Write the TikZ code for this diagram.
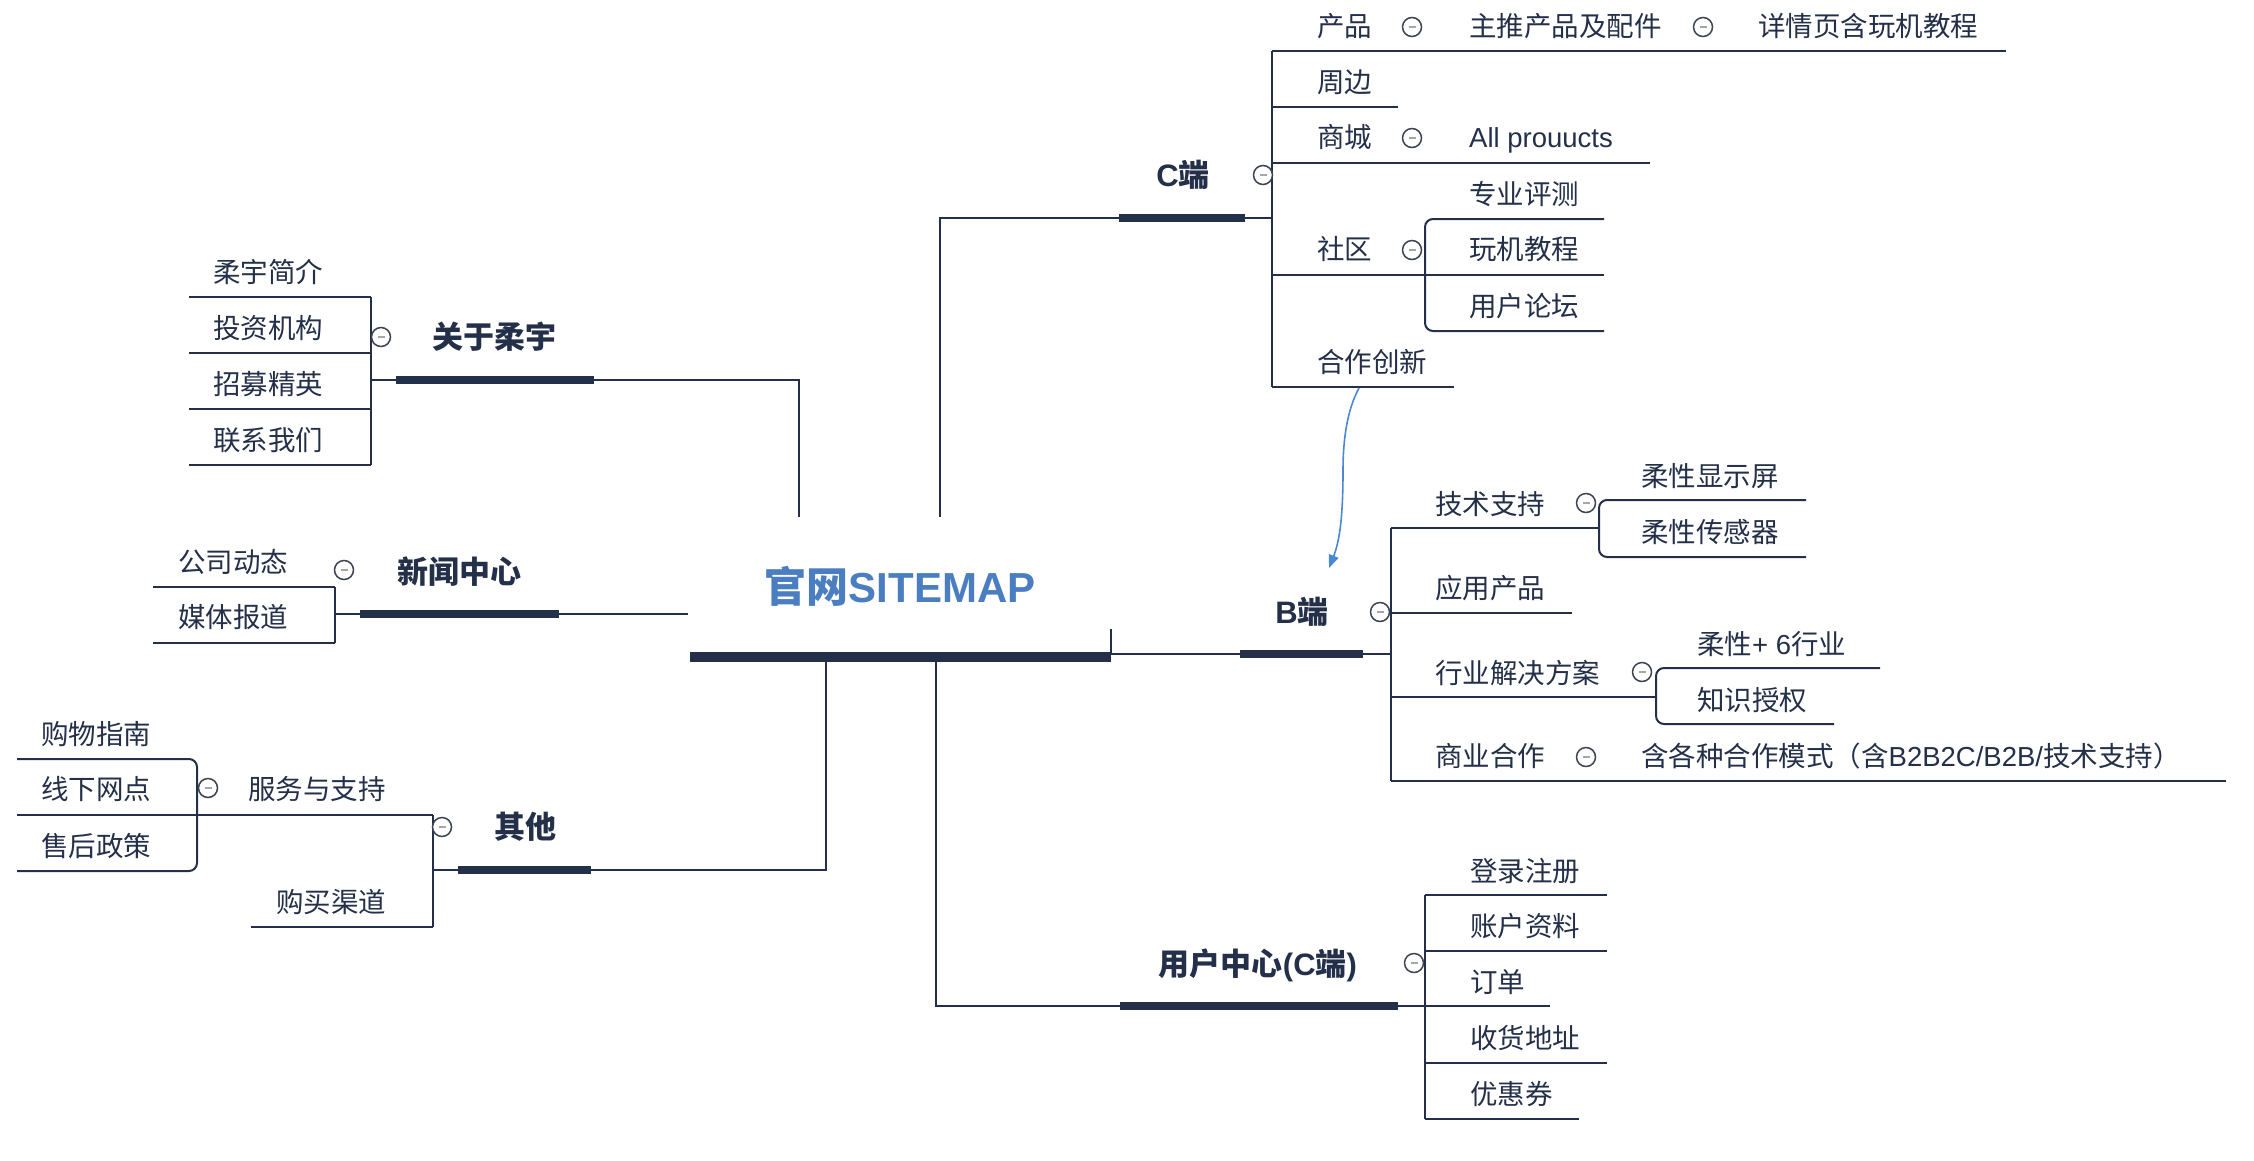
\documentclass[tikz,border=0pt]{standalone}
\usepackage{fontspec}
\setmainfont{Noto Sans CJK SC}
\newfontfamily\lat{Liberation Sans}
\usetikzlibrary{arrows.meta}
\definecolor{ink}{HTML}{243049}
\definecolor{titleblue}{HTML}{4A7EC0}
\definecolor{arrowblue}{HTML}{4A88D6}
\definecolor{dotgrey}{HTML}{3C4352}
\tikzset{
  leaf/.style={font=\fontsize{27.5}{30}\selectfont, text=ink, inner sep=0pt, anchor=west, text height=22pt, text depth=3pt},
  topic/.style={font=\bfseries\fontsize{31}{34}\selectfont, text=ink, inner sep=0pt, text height=26pt, text depth=3pt},
  bar/.style={line width=8pt, draw=ink},
  rootbar/.style={line width=10pt, draw=ink},
  conn/.style={line width=2pt, draw=ink},
  sub/.style={line width=2pt, draw=ink, rounded corners=8pt},
  fold/.style={circle, draw=dotgrey, line width=1.5pt, minimum size=19pt, inner sep=0pt, fill=white,
    path picture={\draw[gray!70, line width=1.4pt] ([xshift=-3.5pt]path picture bounding box.center) -- ([xshift=3.5pt]path picture bounding box.center);}},
}
\begin{document}
\begin{tikzpicture}[x=1pt,y=-1pt]
\useasboundingbox[fill=white] (0,0) rectangle (2254,1160);

% ---------- root ----------
\node[font=\bfseries\fontsize{42}{46}\selectfont, text=titleblue, inner sep=0pt, text height=34pt, text depth=4pt] (root) at (900,587) {官网{\lat SITEMAP}};
\coordinate (rootL) at (690,657);
\coordinate (rootR) at (1111,657);
\draw[rootbar] (rootL) -- (rootR);

% connectors from root
\draw[conn] (799,517) -- (799,380) -- (594,380);
\draw[conn] (940,517) -- (940,218) -- (1119,218);
\draw[conn] (688,614) -- (559,614);
\draw[conn] (826,662) -- (826,870) -- (591,870);
\draw[conn] (936,662) -- (936,1006) -- (1120,1006);
\draw[conn] (1111,629) -- (1111,654) -- (1240,654);

% ---------- C端 ----------
\draw[bar] (1119,218) -- (1245,218);
\draw[conn] (1245,218) -- (1272,218);
\draw[conn] (1272,51) -- (1272,387);
\draw[conn] (1272,51) -- (2006,51);
\draw[conn] (1272,107) -- (1398,107);
\draw[conn] (1272,163) -- (1650,163);
\draw[conn] (1272,275) -- (1604,275);
\draw[conn] (1272,387) -- (1454,387);
\draw[sub] (1604,219) -- (1425,219) -- (1425,331) -- (1604,331);
\node[topic] (cduan) at (1183,175) {{\lat C}端};
\node[fold] (fc) at (1263,175) {};
\node[leaf] (cp) at (1317,27) {产品};
\node[fold] (fcp) at (1412,27) {};
\node[leaf] (cpz) at (1469,27) {主推产品及配件};
\node[fold] (fcpz) at (1703,27) {};
\node[leaf] (cpx) at (1758,27) {详情页含玩机教程};
\node[leaf] (czb) at (1317,83) {周边};
\node[leaf] (csc) at (1317,138) {商城};
\node[fold] (fcsc) at (1412,138) {};
\node[leaf] (call) at (1469,138) {\lat All prouucts};
\node[leaf] (csq) at (1317,250) {社区};
\node[fold] (fcsq) at (1412,250) {};
\node[leaf] (cpc) at (1469,195) {专业评测};
\node[leaf] (cwj) at (1469,250) {玩机教程};
\node[leaf] (cyh) at (1469,307) {用户论坛};
\node[leaf] (chz) at (1317,363) {合作创新};

% ---------- B端 ----------
\draw[bar] (1240,654) -- (1363,654);
\draw[conn] (1363,654) -- (1391,654);
\draw[conn] (1391,528) -- (1391,781);
\draw[conn] (1391,528) -- (1599,528);
\draw[conn] (1391,613) -- (1572,613);
\draw[conn] (1391,697) -- (1656,697);
\draw[conn] (1391,781) -- (2226,781);
\draw[sub] (1806,500) -- (1599,500) -- (1599,557) -- (1806,557);
\draw[sub] (1880,668) -- (1656,668) -- (1656,724) -- (1834,724);
\node[topic] (bduan) at (1302,612) {{\lat B}端};
\node[fold] (fb) at (1380,612) {};
\node[leaf] (bjs) at (1435,505) {技术支持};
\node[fold] (fbjs) at (1586,503) {};
\node[leaf] (bxs) at (1641,477) {柔性显示屏};
\node[leaf] (bcg) at (1641,533) {柔性传感器};
\node[leaf] (byy) at (1435,589) {应用产品};
\node[leaf] (bhy) at (1435,674) {行业解决方案};
\node[fold] (fbhy) at (1642,672) {};
\node[leaf] (b6) at (1697,645) {柔性{\lat + 6}行业};
\node[leaf] (bzs) at (1697,701) {知识授权};
\node[leaf] (bsy) at (1435,757) {商业合作};
\node[fold] (fbsy) at (1586,757) {};
\node[leaf] (bms) at (1641,757) {含各种合作模式（含{\lat B2B2C/B2B/}技术支持）};

% arrow 合作创新 -> B端
\coordinate (arrS) at (1359,388);
\coordinate (arrM) at (1343,470);
\coordinate (arrE) at (1329,568);
\draw[arrowblue, line width=1.6pt, -{Triangle[length=13pt,width=10pt]}] (arrS) .. controls (1347,410) and (1343,440) .. (arrM) .. controls (1343,515) and (1340,540) .. (arrE);

% ---------- 用户中心 ----------
\draw[bar] (1120,1006) -- (1398,1006);
\draw[conn] (1398,1006) -- (1425,1006);
\draw[conn] (1425,895) -- (1425,1119);
\draw[conn] (1425,895) -- (1607,895);
\draw[conn] (1425,951) -- (1607,951);
\draw[conn] (1425,1006) -- (1550,1006);
\draw[conn] (1425,1063) -- (1607,1063);
\draw[conn] (1425,1119) -- (1579,1119);
\node[topic] (uc) at (1258,964) {用户中心{\lat (C}端{\lat )}};
\node[fold] (fuc) at (1414,963) {};
\node[leaf] (u1) at (1470,872) {登录注册};
\node[leaf] (u2) at (1470,927) {账户资料};
\node[leaf] (u3) at (1470,983) {订单};
\node[leaf] (u4) at (1470,1039) {收货地址};
\node[leaf] (u5) at (1470,1095) {优惠券};

% ---------- 关于柔宇 ----------
\draw[bar] (396,380) -- (594,380);
\draw[conn] (371,380) -- (396,380);
\draw[conn] (371,297) -- (371,465);
\foreach \yy in {297,353,409,465} \draw[conn] (371,\yy) -- (189,\yy);
\node[topic] (about) at (494,337) {关于柔宇};
\node[fold] (fabout) at (381,337) {};
\node[leaf] (a1) at (213,273) {柔宇简介};
\node[leaf] (a2) at (213,329) {投资机构};
\node[leaf] (a3) at (213,385) {招募精英};
\node[leaf] (a4) at (213,441) {联系我们};

% ---------- 新闻中心 ----------
\draw[bar] (360,614) -- (559,614);
\draw[conn] (335,614) -- (360,614);
\draw[conn] (335,587) -- (335,643);
\draw[conn] (335,587) -- (153,587);
\draw[conn] (335,643) -- (153,643);
\node[topic] (news) at (459,572) {新闻中心};
\node[fold] (fnews) at (344,570) {};
\node[leaf] (n1) at (178,563) {公司动态};
\node[leaf] (n2) at (178,618) {媒体报道};

% ---------- 其他 ----------
\draw[bar] (458,870) -- (591,870);
\draw[conn] (433,870) -- (458,870);
\draw[conn] (433,815) -- (433,927);
\draw[conn] (433,815) -- (17,815);
\draw[conn] (433,927) -- (251,927);
\draw[sub] (17,759) -- (197,759) -- (197,871) -- (17,871);
\node[topic] (other) at (525,827) {其他};
\node[fold] (fother) at (442,827) {};
\node[leaf] (o1) at (248,790) {服务与支持};
\node[fold] (fo1) at (208,788) {};
\node[leaf] (o11) at (41,735) {购物指南};
\node[leaf] (o12) at (41,790) {线下网点};
\node[leaf] (o13) at (41,847) {售后政策};
\node[leaf] (o2) at (276,903) {购买渠道};
\end{tikzpicture}
\end{document}
